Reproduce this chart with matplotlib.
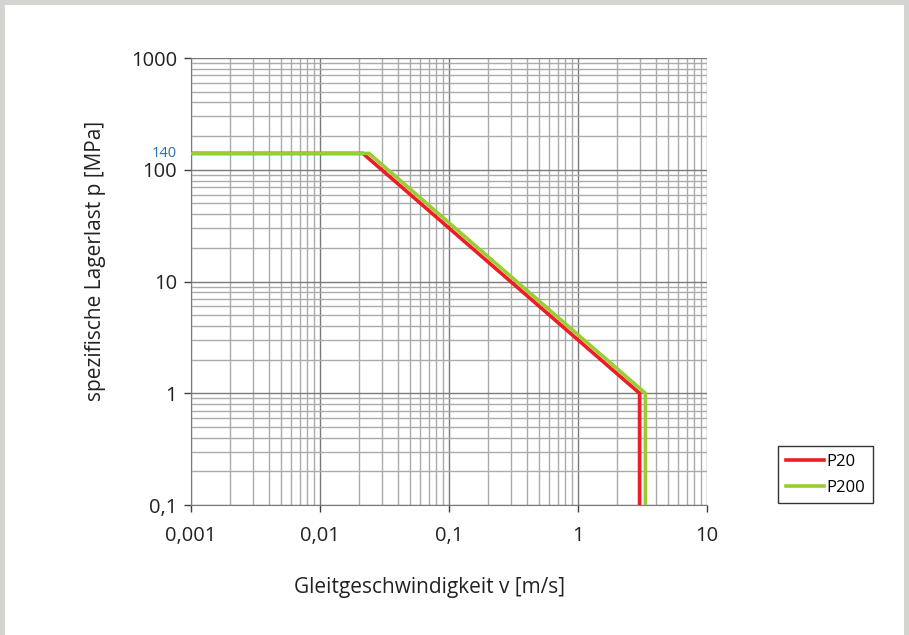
import matplotlib.pyplot as plt
from matplotlib.patches import Rectangle
from matplotlib.ticker import FixedLocator, LogLocator, NullFormatter

plt.rcParams['font.family'] = ['Open Sans', 'DejaVu Sans']

# Daten
P20_V = [0.001, 0.0215, 3.0, 3.0]
P20_P = [140, 140, 1.0, 0.1]
P200_V = [0.001, 0.024, 3.33, 3.33]
P200_P = [140, 140, 1.0, 0.1]

X_TICKS = [0.001, 0.01, 0.1, 1, 10]
X_LABELS = ['0,001', '0,01', '0,1', '1', '10']
Y_TICKS = [0.1, 1, 10, 100, 1000]
Y_LABELS = ['0,1', '1', '10', '100', '1000']
P_MAX = 140

fig = plt.figure(figsize=(9.09, 6.35), dpi=100)
fig.patch.set_facecolor('#d4d4d0')
fig.patches.append(Rectangle((5 / 909, 0), 899 / 909, 630 / 635, transform=fig.transFigure,
                             facecolor='white', edgecolor='none', zorder=-5))

ax = fig.add_axes([191 / 909, 130 / 635, 516 / 909, 447 / 635])
ax.set_facecolor('none')
ax.set_xscale('log')
ax.set_yscale('log')
ax.set_xlim(0.001, 10)
ax.set_ylim(0.1, 1000)

ax.xaxis.set_major_locator(FixedLocator(X_TICKS))
ax.set_xticklabels(X_LABELS)
ax.yaxis.set_major_locator(FixedLocator(Y_TICKS))
ax.set_yticklabels(Y_LABELS)
ax.xaxis.set_minor_locator(LogLocator(base=10, subs=range(2, 10), numticks=20))
ax.yaxis.set_minor_locator(LogLocator(base=10, subs=range(2, 10), numticks=20))
ax.xaxis.set_minor_formatter(NullFormatter())
ax.yaxis.set_minor_formatter(NullFormatter())

ax.grid(True, which='major', color='#7a7a7a', lw=1.0)
ax.grid(True, which='minor', color='#ababab', lw=1.0)
ax.set_axisbelow(True)

ax.tick_params(which='minor', length=0)
ax.tick_params(which='major', length=5, width=1, color='#404040', labelsize=14.5,
               labelcolor='#222222')
ax.tick_params(axis='x', pad=10)
ax.tick_params(axis='y', pad=5)

for s in ['top', 'right']:
    ax.spines[s].set_visible(False)
for s in ['left', 'bottom']:
    ax.spines[s].set_color('#7a7a7a')

ax.plot(P20_V, P20_P, color='#ee1c24', lw=2.6, label='P20', zorder=3, solid_joinstyle='miter')
ax.plot(P200_V, P200_P, color='#9acd32', lw=2.6, label='P200', zorder=4, solid_joinstyle='miter')

ax.annotate(str(P_MAX), xy=(0, P_MAX), xycoords=ax.get_yaxis_transform(),
            xytext=(-10, 0), textcoords='offset points', ha='right', va='center',
            color='#1f6fb2', fontsize=10.5)

ax.set_xlabel('Gleitgeschwindigkeit v [m/s]', fontsize=15, color='#222222')
ax.set_ylabel('spezifische Lagerlast p [MPa]', fontsize=15, color='#222222')
ax.xaxis.set_label_coords(0.463, -0.16)
ax.yaxis.set_label_coords(-0.165, 0.546)

leg = fig.legend(loc='upper left', bbox_to_anchor=(778 / 909, (635 - 446) / 635), frameon=True,
                 fancybox=False, fontsize=12, handlelength=2.3, handletextpad=0.15,
                 borderpad=0.45, labelspacing=0.6, borderaxespad=0)
leg.get_frame().set_edgecolor('black')
leg.get_frame().set_linewidth(1)

fig.savefig('out.png', dpi=100, facecolor=fig.get_facecolor())
